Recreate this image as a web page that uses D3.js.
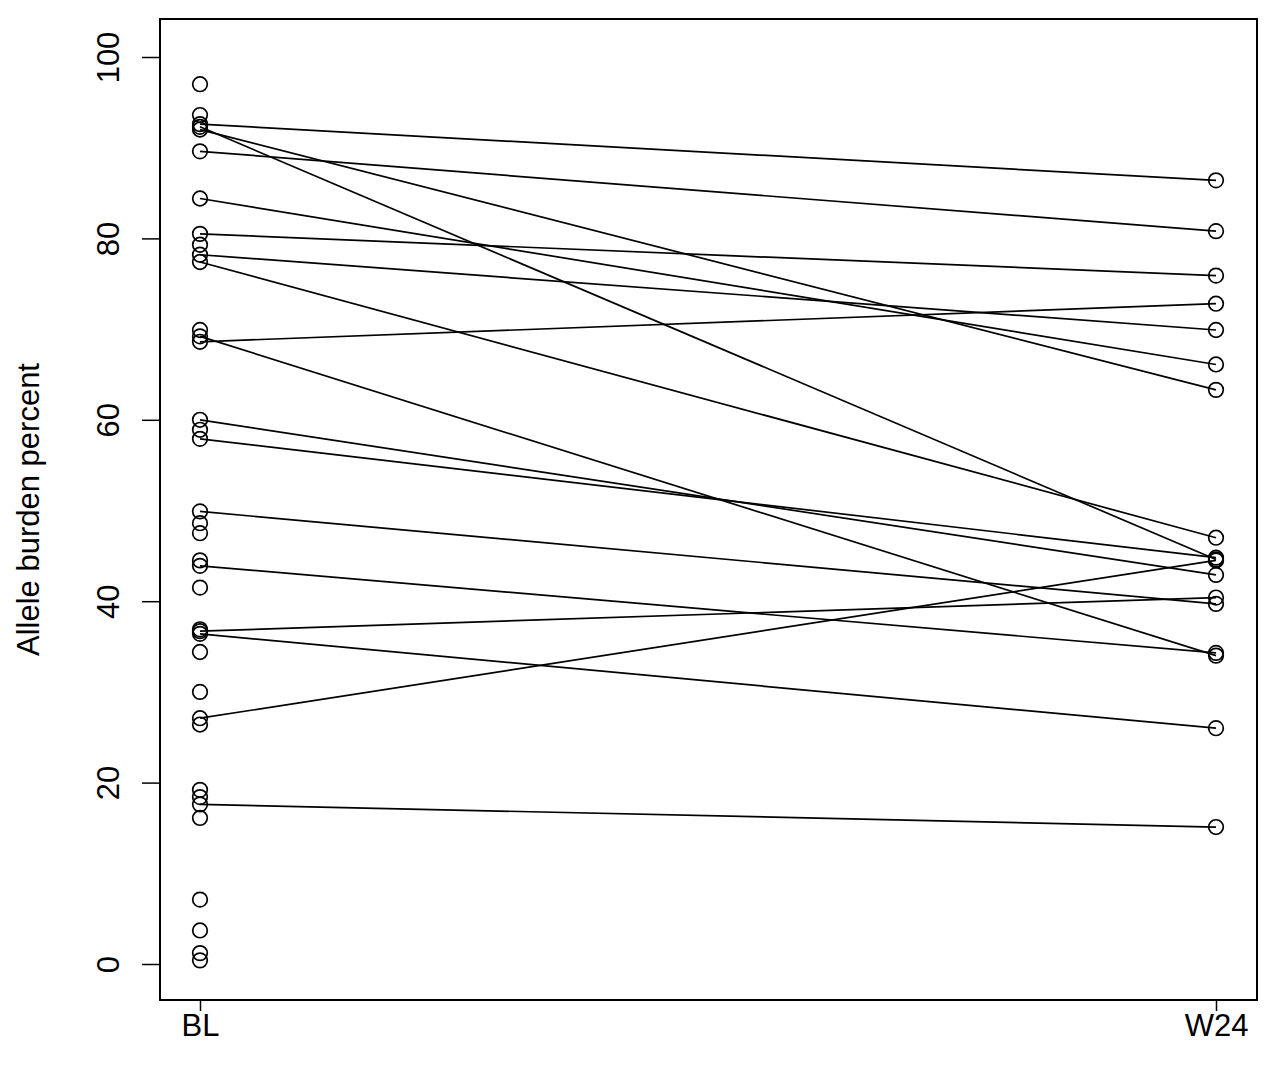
<!DOCTYPE html>
<html><head><meta charset="utf-8">
<script src="https://cdn.jsdelivr.net/npm/d3@7"></script>
<style>body{margin:0;background:#fff;} text{font-family:"Liberation Sans",Arial,sans-serif;}</style>
</head><body>
<svg id="c" width="1280" height="1070"></svg>
<script>
const timepoints = ["BL", "W24"];
const yTicks = [0, 20, 40, 60, 80, 100];
const yLabel = "Allele burden percent";
// all baseline observations
const blValues = [97.0, 93.6, 92.6, 92.3, 92.0, 89.6, 84.4, 80.5, 79.3, 78.2, 77.4,
  69.9, 69.2, 68.6, 60.0, 58.9, 57.9, 49.9, 48.6, 47.5, 44.5, 43.9, 41.5,
  36.9, 36.7, 36.4, 34.4, 30.0, 27.1, 26.4, 19.2, 18.4, 17.6, 16.1, 7.1, 3.7, 1.2, 0.4];
// paired patients: baseline and week-24 values
const pairBL  = [92.6, 89.6, 92.3, 92.0, 84.4, 80.5, 78.2, 77.4, 68.6, 69.2, 60.0, 57.9, 49.9, 43.9, 36.7, 36.4, 27.1, 17.6];
const pairW24 = [86.4, 80.8, 44.6, 63.3, 66.1, 75.9, 69.9, 47.0, 72.8, 34.0, 42.9, 44.8, 39.7, 34.3, 40.4, 26.0, 44.5, 15.1];

const svg = d3.select("#c");
const box = {l:160, r:1257, t:19, b:1000};
const x = d3.scalePoint().domain(timepoints).range([200, 1216]);
const y = d3.scaleLinear().domain([0, 100]).range([964, 57]);
const fs = 31;

// lines
const pairs = pairBL.map((v,i)=>[v, pairW24[i]]);
svg.append("g").selectAll("line").data(pairs).join("line")
  .attr("x1", x("BL")).attr("x2", x("W24"))
  .attr("y1", d=>y(d[0])).attr("y2", d=>y(d[1]))
  .attr("stroke", "#000").attr("stroke-width", 1.7);

// points
const pts = blValues.map(v=>({t:"BL", v})).concat(pairW24.map(v=>({t:"W24", v})));
svg.append("g").selectAll("circle").data(pts).join("circle")
  .attr("cx", d=>x(d.t)).attr("cy", d=>y(d.v)).attr("r", 7.3)
  .attr("fill", "none").attr("stroke", "#000").attr("stroke-width", 1.7);

// box
svg.append("rect").attr("x", box.l).attr("y", box.t)
  .attr("width", box.r-box.l).attr("height", box.b-box.t)
  .attr("fill", "none").attr("stroke", "#000").attr("stroke-width", 2);

// y axis
const ya = svg.append("g").attr("transform", `translate(${box.l},0)`)
  .call(d3.axisLeft(y).tickValues(yTicks).tickSize(18).tickSizeOuter(0).tickPadding(0));
ya.select(".domain").attr("d", `M0,${y(0)}V${y(100)}`).attr("stroke-width", 1.5);
ya.selectAll(".tick line").attr("stroke-width", 1.5);
ya.selectAll(".tick text").attr("font-size", fs).attr("font-family", "Liberation Sans, Arial, sans-serif")
  .attr("text-anchor", "middle").attr("x", 0).attr("y", 0).attr("dy", null)
  .attr("transform", "translate(-52,0) rotate(-90)").attr("dominant-baseline", "central")
  .attr("fill", "#000");

// x axis
const xa = svg.append("g").attr("transform", `translate(0,${box.b})`)
  .call(d3.axisBottom(x).tickSize(11).tickSizeOuter(0).tickPadding(3));
xa.select(".domain").remove();
xa.selectAll(".tick line").attr("stroke-width", 1.5);
xa.selectAll(".tick text").attr("font-size", fs).attr("font-family", "Liberation Sans, Arial, sans-serif")
  .attr("fill", "#000").attr("dy", "0.71em");

// y label
svg.append("text").attr("transform", `translate(39,${(box.t+box.b)/2}) rotate(-90)`)
  .attr("text-anchor", "middle").attr("font-size", fs).text(yLabel);
</script>
</body></html>
